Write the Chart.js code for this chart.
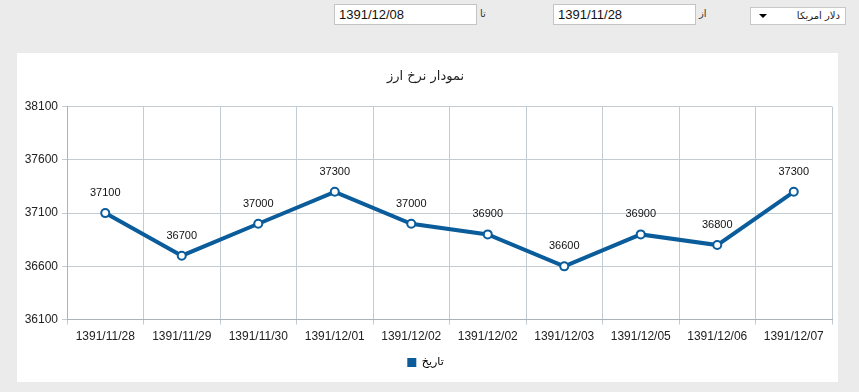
<!DOCTYPE html>
<html>
<head>
<meta charset="utf-8">
<script src="https://cdn.jsdelivr.net/npm/chart.js@4"></script>
<style>
  body { margin: 0; width: 859px; height: 392px; background: #ebebeb; position: relative; overflow: hidden; font-family: "Liberation Sans", Arial, "DejaVu Sans", sans-serif; }
  .field { position: absolute; top: 4px; height: 19px; background: #fff; border: 1px solid #c4c4c4; font-size: 13px; line-height: 19px; padding-left: 4px; box-sizing: content-box; color: #111; }
  .lbl { position: absolute; top: 8px; font-size: 10px; color: #333; font-family: "DejaVu Sans", sans-serif; }
  .combo { position: absolute; left: 750px; top: 7px; width: 94px; height: 16px; background: #fff; border: 1px solid #c8c8c8; font-size: 10px; line-height: 16px; direction: rtl; font-family: "DejaVu Sans", sans-serif; color: #222; }
  .combo span { position: absolute; right: 5px; }
  .combo i { position: absolute; left: 8px; top: 6px; width: 0; height: 0; border-left: 4px solid transparent; border-right: 4px solid transparent; border-top: 4px solid #000; }
  .panel { position: absolute; left: 17px; top: 53px; width: 821px; height: 329px; background: #fff; }
</style>
</head>
<body>
<div class="field" style="left:334px; width:137px;">1391/12/08</div>
<div class="lbl" style="left:480px;">تا</div>
<div class="field" style="left:553px; width:137px;">1391/11/28</div>
<div class="lbl" style="left:699px;">از</div>
<div class="combo"><span>دلار امریکا</span><i></i></div>

<div class="panel"><canvas id="rateChart"></canvas></div>

<script>
const dates = ["1391/11/28", "1391/11/29", "1391/11/30", "1391/12/01", "1391/12/02", "1391/12/02", "1391/12/03", "1391/12/05", "1391/12/06", "1391/12/07"];
const rates = [37100, 36700, 37000, 37300, 37000, 36900, 36600, 36900, 36800, 37300];
const yMin = 36100;
const yMax = 38100;
const yStep = 500;

const lineColor = "#0b5c9a";
const gridColor = "#c3ccd3";

// labels above each point
const pointLabels = {
  id: "pointLabels",
  afterDatasetsDraw(chart) {
    const c = chart.ctx;
    const meta = chart.getDatasetMeta(0);
    c.save();
    c.font = "11px 'Liberation Sans', Arial, sans-serif";
    c.fillStyle = "#111";
    c.textAlign = "center";
    c.textBaseline = "middle";
    meta.data.forEach((pt, i) => {
      c.fillText(chart.data.datasets[0].data[i], pt.x, pt.y - 20);
    });
    c.restore();
  },
};

new Chart(document.getElementById("rateChart"), {
  type: "line",
  data: {
    labels: dates,
    datasets: [
      {
        label: "تاریخ",
        data: rates,
        borderColor: lineColor,
        backgroundColor: lineColor,
        borderWidth: 4,
        tension: 0,
        pointRadius: 4,
        pointBorderWidth: 2,
        pointBackgroundColor: "#fff",
        pointBorderColor: lineColor,
      },
    ],
  },
  options: {
    responsive: true,
    maintainAspectRatio: false,
    animation: false,
    layout: { padding: { left: 0, right: 4, top: 0, bottom: 4 } },
    plugins: {
      title: {
        display: true,
        text: "نمودار نرخ ارز",
        color: "#222",
        font: { size: 13, family: "'DejaVu Sans', sans-serif", weight: "normal" },
        padding: { top: 16, bottom: 22 },
      },
      legend: {
        position: "bottom",
        labels: {
          color: "#333",
          boxWidth: 9,
          boxHeight: 9,
          padding: 8,
          font: { size: 11, family: "'DejaVu Sans', sans-serif" },
          generateLabels: (chart) => [
            { text: "تاریخ", fillStyle: lineColor, strokeStyle: lineColor, lineWidth: 0, datasetIndex: 0 },
          ],
        },
      },
      tooltip: { enabled: false },
    },
    scales: {
      y: {
        min: yMin,
        max: yMax,
        afterFit: (scale) => { scale.width = 50; },
        ticks: {
          stepSize: yStep,
          padding: 4,
          color: "#222",
          font: { size: 12, family: "'Liberation Sans', Arial, sans-serif" },
          callback: (v) => String(v),
        },
        grid: { color: gridColor, tickLength: 5 },
        border: { color: "#a9b3ba" },
      },
      x: {
        offset: true,
        ticks: {
          padding: 5,
          maxRotation: 0,
          autoSkip: false,
          color: "#222",
          font: { size: 12, family: "'Liberation Sans', Arial, sans-serif" },
        },
        grid: { offset: true, color: gridColor, tickLength: 5 },
        border: { color: "#a9b3ba" },
      },
    },
  },
  plugins: [pointLabels],
});
</script>
</body>
</html>
